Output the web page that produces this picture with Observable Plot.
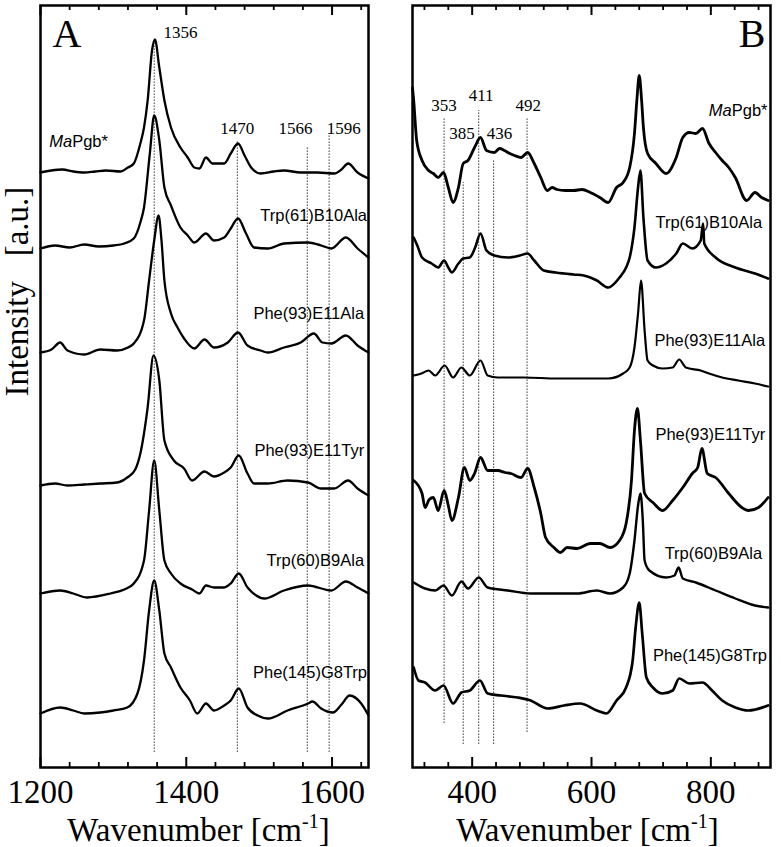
<!DOCTYPE html>
<html><head><meta charset="utf-8">
<script src="https://cdn.jsdelivr.net/npm/d3@7"></script>
<script src="https://cdn.jsdelivr.net/npm/@observablehq/plot@0.6"></script>
<style>
body{margin:0;background:#fff;}
#wrap{position:relative;width:781px;height:847px;overflow:hidden;}
#wrap svg{position:absolute;top:0;}
</style></head><body><div id="wrap"></div>
<script>
const serif = "Liberation Serif, Times New Roman, serif";
const sans = "Liberation Sans, Arial, sans-serif";

const seriesNames = ["MaPgb*","Trp(61)B10Ala","Phe(93)E11Ala","Phe(93)E11Tyr","Trp(60)B9Ala","Phe(145)G8Trp"];

// Panel A: [wavenumber, intensity (a.u., stacked)]
const aMaPgb = [[1200,595],[1215,597],[1230,598],[1245,596],[1260,595],[1275,596],[1290,597],[1310,596],[1320,600],[1328,604],[1337,624],[1342,640],[1347,667],[1353,717],[1357,728],[1363,700],[1370,667],[1379,640],[1392,620],[1402,610],[1411,600],[1418,599],[1427,610],[1436,604],[1452,604],[1461,614],[1471,624],[1480,612],[1489,600],[1502,594],[1520,596],[1534,597],[1557,595],[1580,595],[1603,594],[1613,598],[1622,604],[1635,595],[1650,589]];
const aTrp61 = [[1200,519],[1220,522],[1240,520],[1260,523],[1280,521],[1300,522],[1315,524],[1328,529],[1337,545],[1342,560],[1350,614],[1356,652],[1363,627],[1370,580],[1379,562],[1392,540],[1402,532],[1411,525],[1427,534],[1438,527],[1452,530],[1461,539],[1471,549],[1482,534],[1493,520],[1512,519],[1534,524],[1567,525],[1585,522],[1599,519],[1619,530],[1635,519],[1650,510]];
const aPhe93Ala = [[1200,415],[1215,418],[1227,425],[1237,417],[1260,413],[1282,418],[1305,417],[1320,420],[1328,424],[1342,447],[1349,487],[1356,527],[1362,552],[1366,527],[1370,487],[1379,454],[1388,440],[1397,429],[1411,419],[1425,428],[1438,420],[1457,425],[1471,435],[1484,422],[1502,417],[1512,415],[1534,420],[1557,425],[1575,434],[1587,425],[1599,424],[1619,432],[1635,422],[1650,415]];
const aPhe93Tyr = [[1200,282],[1220,284],[1237,282],[1260,283],[1282,284],[1305,285],[1319,290],[1330,298],[1337,314],[1347,360],[1355,412],[1363,387],[1370,327],[1383,307],[1397,299],[1408,287],[1425,296],[1438,291],[1452,295],[1461,300],[1472,312],[1484,294],[1493,284],[1512,284],[1539,287],[1567,285],[1585,279],[1603,279],[1622,287],[1635,279],[1650,272]];
const aTrp60 = [[1200,174],[1227,177],[1245,174],[1264,170],[1296,174],[1315,178],[1328,184],[1342,207],[1349,257],[1356,307],[1363,257],[1370,207],[1379,194],[1392,184],[1408,178],[1418,174],[1427,182],[1438,180],[1452,180],[1461,184],[1472,194],[1484,180],[1496,172],[1507,169],[1534,177],[1567,182],[1599,177],[1619,186],[1635,180],[1650,174]];
const aPhe145 = [[1200,54],[1227,60],[1245,57],[1260,54],[1282,55],[1300,57],[1319,60],[1333,74],[1342,107],[1349,157],[1356,187],[1363,157],[1370,114],[1379,100],[1392,80],[1405,67],[1415,54],[1427,64],[1438,57],[1452,62],[1461,67],[1472,79],[1484,60],[1498,52],[1512,49],[1539,57],[1567,64],[1573,66],[1585,59],[1601,55],[1613,63],[1624,72],[1640,64],[1650,52]];

// Panel B
const bMaPgb = [[300,680],[302,667],[307,627],[316,607],[327,597],[335,594],[343,590],[352,595],[360,580],[368,565],[377,580],[385,604],[393,607],[404,620],[414,630],[424,617],[437,615],[446,619],[454,617],[463,614],[471,612],[482,610],[493,615],[504,604],[515,590],[526,577],[534,580],[542,578],[556,577],[570,577],[584,578],[598,575],[614,570],[628,565],[642,580],[653,585],[664,600],[672,634],[676,667],[680,692],[684,667],[687,640],[694,614],[708,604],[725,594],[742,610],[753,630],[764,635],[775,634],[786,639],[797,624],[808,615],[819,607],[830,600],[841,590],[860,567],[874,575],[885,570],[896,567]];
const bTrp61 = [[302,530],[308,522],[316,510],[332,504],[343,500],[353,507],[360,500],[366,495],[377,504],[385,509],[396,510],[405,520],[414,534],[424,517],[437,512],[460,510],[480,512],[493,514],[504,507],[520,497],[540,495],[554,494],[570,493],[587,492],[609,487],[628,480],[647,490],[658,500],[664,510],[672,540],[678,580],[682,597],[687,550],[694,507],[708,500],[725,504],[742,514],[753,524],[769,519],[783,527],[787,544],[789,524],[808,510],[841,500],[874,494],[896,489]];
const bPhe93Ala = [[302,392],[315,394],[327,397],[338,392],[354,402],[368,390],[382,400],[396,392],[414,407],[426,392],[443,390],[487,390],[542,389],[598,389],[628,389],[653,394],[664,400],[672,420],[678,454],[683,487],[689,437],[694,407],[703,402],[719,399],[736,400],[747,408],[758,400],[783,397],[797,394],[819,390],[846,387],[874,384],[896,381]];
const bPhe93Tyr = [[302,287],[316,274],[321,260],[328,268],[335,270],[343,257],[353,277],[360,262],[366,247],[377,270],[387,300],[396,287],[404,294],[414,310],[426,297],[443,297],[455,295],[465,294],[482,290],[493,299],[504,280],[515,254],[523,230],[537,220],[548,215],[559,220],[576,219],[598,224],[614,224],[631,220],[647,227],[658,244],[667,287],[672,337],[677,359],[682,327],[689,274],[703,265],[719,257],[736,267],[753,280],[769,294],[778,300],[785,319],[794,294],[808,290],[830,274],[852,260],[863,257],[880,260],[896,270]];
const bTrp60 = [[302,185],[321,179],[338,177],[352,182],[366,172],[382,186],[393,179],[411,190],[426,180],[460,177],[498,174],[542,174],[576,174],[609,177],[631,174],[653,180],[664,194],[672,227],[678,262],[682,274],[686,247],[689,207],[697,197],[725,190],[739,192],[746,200],[753,189],[775,185],[808,177],[841,169],[874,162],[896,160]];
const bPhe145 = [[302,100],[310,87],[321,85],[338,77],[352,82],[368,64],[382,75],[396,77],[413,87],[426,74],[448,72],[476,70],[498,67],[526,59],[554,62],[581,64],[609,57],[625,54],[642,67],[658,80],[669,107],[674,140],[680,165],[685,134],[692,90],[703,80],[719,74],[736,77],[747,89],[764,84],[786,85],[802,77],[819,67],[841,60],[863,57],[896,62]];

// Marked bands (dotted guides) and their labels
const peaksA = [1356, 1470, 1566, 1596];
const peakLineLowA = [15, 15, 15, 15];
const peakLineHighA = [724, 627, 620, 634];
const peakLabelXA = [1392, 1470, 1550, 1616];
const peakLabelYA = [735, 639, 639, 639];

const peaksB = [353, 385, 411, 436, 492];
const peakLineLowB = [44, 23, 23, 23, 35];
const peakLineHighB = [650, 585, 657, 607, 650];
const peakLabelXB = [353, 383, 415, 446, 494];
const peakLabelYB = [662, 634, 672, 634, 662];

// Series label anchors (data units)
const nameXA = [1212, 1648, 1644, 1644, 1644, 1648];
const nameYA = [626, 552, 454, 317, 207, 95];
const nameXB = [895, 886, 891, 891, 886, 894];
const nameYB = [657, 545, 427, 333, 214, 112];

const ticksMajorA = [1200, 1400, 1600];
const ticksMinorA = d3.range(1240, 1650, 40).filter(v => !ticksMajorA.includes(v));
const ticksMajorB = [400, 600, 800];
const ticksMinorB = d3.range(320, 900, 40).filter(v => !ticksMajorB.includes(v));

const seriesA = [aMaPgb, aTrp61, aPhe93Ala, aPhe93Tyr, aTrp60, aPhe145];
const seriesB = [bMaPgb, bTrp61, bPhe93Ala, bPhe93Tyr, bTrp60, bPhe145];
const widthsA = [2.3, 2.3, 2.3, 2.3, 2.3, 2.3];
const widthsB = [2.8, 2.6, 2.2, 2.8, 2.4, 2.7];

function panel(o) {
  const H = 762;
  return Plot.plot({
    width: o.width, height: 847,
    marginLeft: o.ml, marginRight: o.mr, marginTop: 5, marginBottom: 80,
    x: {domain: o.domain, axis: null},
    y: {domain: [0, H], axis: null},
    style: {fontFamily: serif, background: "transparent", overflow: "visible", color: "black"},
    marks: [
      Plot.ruleX(o.peaks, {x: d => d, y1: (d, i) => o.low[i], y2: (d, i) => o.high[i],
        stroke: "#444", strokeWidth: 1, strokeDasharray: "1.6,1.4"}),
      ...o.series.map((s, k) => Plot.line(s, {x: d => d[0], y: d => d[1], curve: "monotone-x",
        stroke: "black", strokeWidth: o.sw[k], strokeLinejoin: "round"})),
      Plot.ruleX(o.minor, {insetTop: H - 5, strokeWidth: 1.8}),
      Plot.ruleX(o.minor, {insetBottom: H - 5, strokeWidth: 1.8}),
      Plot.ruleX(o.major, {insetTop: H - 10, strokeWidth: 2}),
      Plot.ruleX(o.major, {insetBottom: H - 10, strokeWidth: 2}),
      Plot.text(o.major, {x: d => d, frameAnchor: "bottom", dy: 12, lineAnchor: "top",
        text: d => String(d), fontSize: 33, fontFamily: serif}),
      Plot.frame({strokeWidth: 2.5}),
      Plot.text(o.peaks, {x: (d, i) => o.plx[i], y: (d, i) => o.ply[i], text: d => String(d),
        fontSize: 17, fontFamily: serif, textAnchor: "middle"}),
      Plot.text(seriesNames, {x: (d, i) => o.nx[i], y: (d, i) => o.ny[i], text: d => d,
        fontSize: 16.5, fontFamily: sans, textAnchor: "end"}),
      Plot.text([o.letter], {frameAnchor: o.letterAnchor, dx: o.letterDx, dy: 13, lineAnchor: "top",
        fontSize: 40, fontFamily: serif, textAnchor: o.letterAnchor === "top-left" ? "start" : "end"}),
      Plot.text(["Wavenumber [cm-1]"], {frameAnchor: "bottom", dx: o.xlDx, dy: 50, lineAnchor: "top",
        fontSize: 33, fontFamily: serif}),
      ...(o.ylabel ? [Plot.text(["Intensity\u00a0\u00a0\u00a0[a.u.]"], {frameAnchor: "left", dx: -23, dy: 10,
        rotate: -90, fontSize: 33, fontFamily: serif})] : [])
    ]
  });
}

const svgA = panel({width: 390, ml: 40, mr: 22, domain: [1200, 1650], series: seriesA, sw: widthsA,
  peaks: peaksA, low: peakLineLowA, high: peakLineHighA, plx: peakLabelXA, ply: peakLabelYA,
  nx: nameXA, ny: nameYA,
  major: ticksMajorA, minor: ticksMinorA, letter: "A", letterAnchor: "top-left", letterDx: 12,
  xlDx: -6, ylabel: true});
const svgB = panel({width: 391, ml: 22, mr: 11, domain: [300, 900], series: seriesB, sw: widthsB,
  peaks: peaksB, low: peakLineLowB, high: peakLineHighB, plx: peakLabelXB, ply: peakLabelYB,
  nx: nameXB, ny: nameYB,
  major: ticksMajorB, minor: ticksMinorB, letter: "B", letterAnchor: "top-right", letterDx: -5,
  xlDx: -4, ylabel: false});

svgA.style.left = "0px";
svgB.style.left = "390px";
const wrap = document.getElementById("wrap");
wrap.appendChild(svgA);
wrap.appendChild(svgB);

function fixText(svg) {
  d3.select(svg).selectAll("text").each(function() {
    const t = d3.select(this);
    const s = this.textContent;
    if (s === "MaPgb*") {
      t.text("");
      t.append("tspan").attr("font-style", "italic").text("Ma");
      t.append("tspan").text("Pgb*");
    } else if (s === "Wavenumber [cm-1]") {
      t.text("");
      t.append("tspan").text("Wavenumber [cm");
      t.append("tspan").attr("font-size", 20).attr("dy", -13).text("-1");
      t.append("tspan").attr("dy", 13).text("]");
    }
  });
}
fixText(svgA);
fixText(svgB);
// Panel A's MaPgb* label sits at the left, start-anchored
d3.select(svgA).selectAll("text").filter(function(){ return this.textContent === "MaPgb*"; })
  .attr("text-anchor", "start");
</script></body></html>
